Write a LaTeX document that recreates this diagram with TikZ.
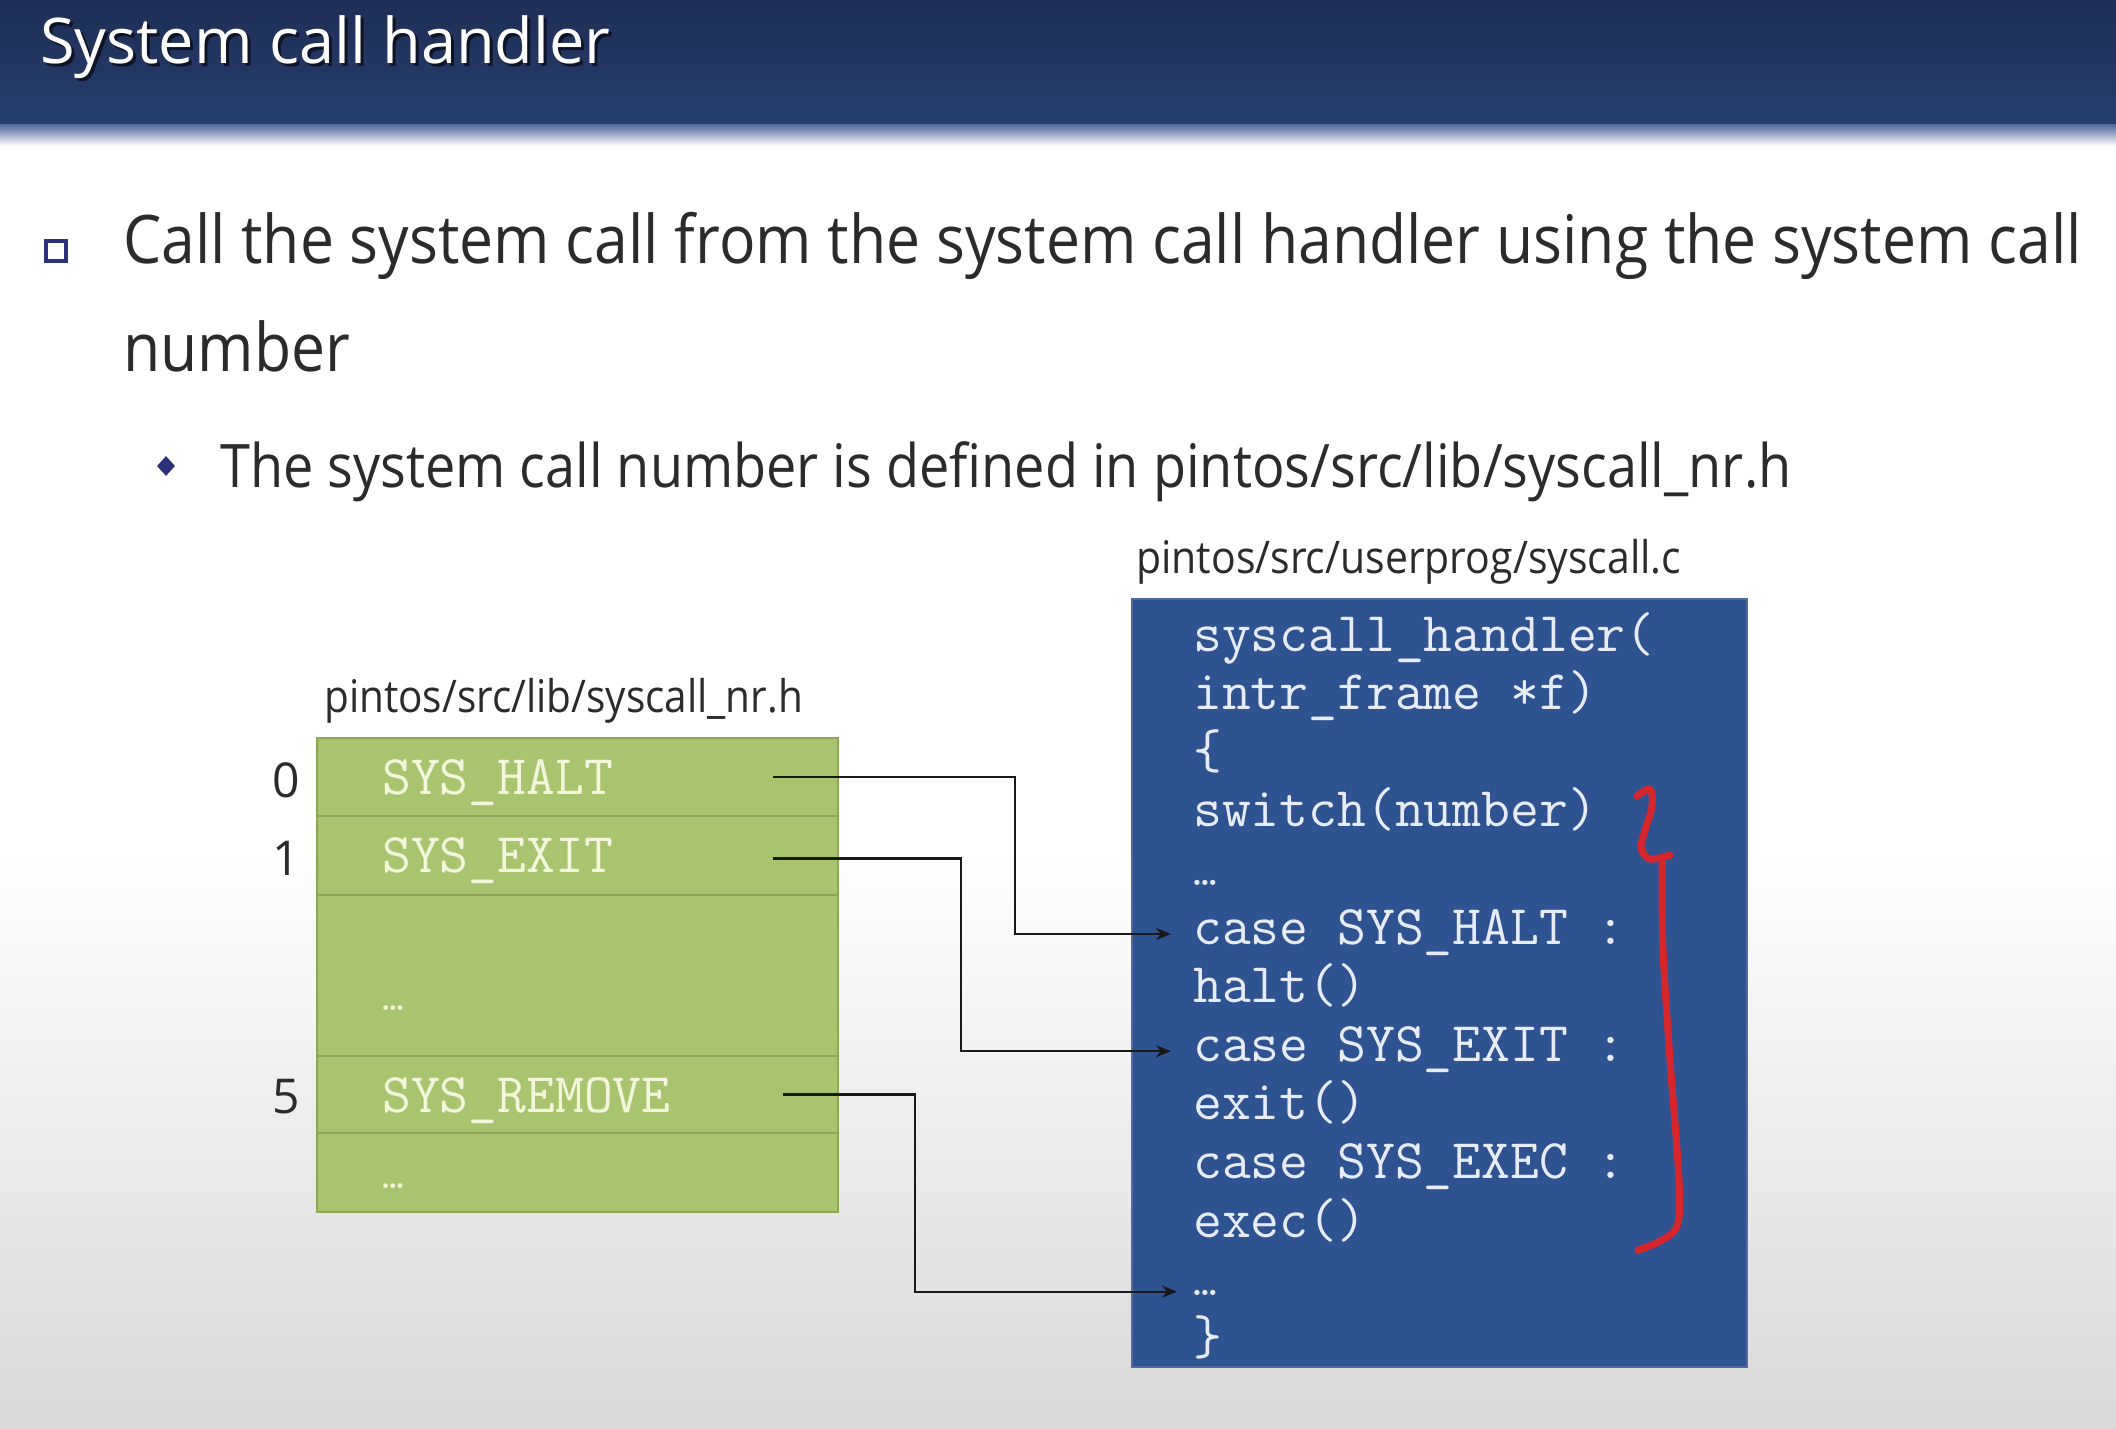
\documentclass[tikz,border=0pt]{standalone}
\usepackage{fontspec}
\usepackage{graphicx}
\setmainfont{Open Sans}
\usetikzlibrary{arrows.meta,shapes.geometric}
\definecolor{navyA}{HTML}{1F2E55}
\definecolor{navyB}{HTML}{263E6D}
\definecolor{bandC}{HTML}{4D6597}
\definecolor{greenF}{HTML}{A9C46F}
\definecolor{greenD}{HTML}{8CA75A}
\definecolor{greenT}{HTML}{F2F6DC}
\definecolor{blueF}{HTML}{2F5291}
\definecolor{blueT}{HTML}{E6ECF6}
\definecolor{inkT}{HTML}{2B2B2B}
\definecolor{redP}{HTML}{D7262B}
\definecolor{bulletC}{HTML}{2C327A}
\newcommand{\codefont}{\fontsize{56}{56}\ttfamily}
\begin{document}
\begin{tikzpicture}[x=1pt,y=-1pt,
  txt/.style={anchor=base west, inner sep=0pt, text=inkT},
  code/.style={anchor=base west, inner sep=0pt, text=blueT, text height=34pt, text depth=10pt, font=\codefont},
  gtext/.style={anchor=base west, inner sep=0pt, text=greenT, font=\codefont},
  row/.style={draw=greenD, line width=2pt, fill=greenF, minimum width=521pt, anchor=north west, inner sep=0pt, outer sep=0pt},
  conn/.style={draw=black!90, line width=2.2pt, -{Stealth[length=15pt,width=12pt]}},
  num/.style={anchor=base east, inner sep=0pt, text=inkT, font=\fontsize{48}{48}\selectfont},
  fpath/.style={anchor=base west, inner sep=0pt, text=inkT, font=\fontsize{45}{45}\selectfont},
]
\useasboundingbox (0,0) rectangle (2116,1428);
% background
\fill[white] (0,0) rectangle (2116,1428);
\shade[top color=white, bottom color=black!15] (0,850) rectangle (2116,1428);
\shade[top color=navyA, bottom color=navyB] (0,0) rectangle (2116,124);
\shade[top color=bandC, bottom color=white] (0,124) rectangle (2116,146);
% title
\node[anchor=base west, inner sep=0pt, text=black, opacity=0.6, font=\fontsize{63}{63}\selectfont] (tshadow) at (43,66) {System call handler};
\node[anchor=base west, inner sep=0pt, text=white, font=\fontsize{63}{63}\selectfont] (title) at (40,63) {System call handler};
% bullets
\node[draw=bulletC, line width=4pt, minimum size=20pt, inner sep=0pt] (sq) at (56,251) {};
\node[txt, font=\fontsize{67}{67}\selectfont] (b1) at (123,263) {\scalebox{0.905}[1]{Call the system call from the system call handler using the system call}};
\node[txt, font=\fontsize{67}{67}\selectfont] (b1b) at (123,371) {\scalebox{0.905}[1]{number}};
\node[diamond, fill=bulletC, minimum width=18pt, minimum height=20pt, inner sep=0pt] (dm) at (166,466) {};
\node[txt, font=\fontsize{60}{60}\selectfont] (b2) at (220,487) {\scalebox{0.9}[1]{The system call number is defined in pintos/src/lib/syscall\_nr.h}};
% file labels
\node[fpath] (lab1) at (324,712) {\scalebox{0.9}[1]{pintos/src/lib/syscall\_nr.h}};
\node[fpath] (lab2) at (1136,573) {\scalebox{0.91}[1]{pintos/src/userprog/syscall.c}};
% green table
\node[row, minimum height=78pt] (r1) at (317,738) {};
\node[row, minimum height=79pt] (r2) at (317,816) {};
\node[row, minimum height=161pt] (r3) at (317,895) {};
\node[row, minimum height=77pt] (r4) at (317,1056) {};
\node[row, minimum height=79pt] (r5) at (317,1133) {};
\node[gtext] (g1) at (382,794) {SYS\_HALT};
\node[gtext] (g2) at (382,872) {SYS\_EXIT};
\node[gtext, font=\fontsize{42}{42}\ttfamily] (g3) at (382,1010) {…};
\node[gtext] (g4) at (382,1112) {SYS\_REMOVE};
\node[gtext, font=\fontsize{42}{42}\ttfamily] (g5) at (382,1188) {…};
\node[num] (n0) at (300,797) {0};
\node[num] (n1) at (300,875) {1};
\node[num] (n5) at (300,1113) {5};
% blue code box
\node[draw=blueF!85!white, line width=1.5pt, fill=blueF, minimum width=615pt, minimum height=768pt, anchor=north west, inner sep=0pt] (cbox) at (1131,598) {};
\node[code] (l0) at (1193,651) {syscall\_handler(};
\node[code] (l1) at (1193,709.6) {intr\_frame *f)};
\node[code] (l2) at (1193,768.2) {\{};
\node[code] (l3) at (1193,826.8) {switch(number)};
\node[code, font=\fontsize{46}{46}\ttfamily] (l4) at (1193,885.4) {…};
\node[code] (l5) at (1193,944) {case SYS\_HALT :};
\node[code] (l6) at (1193,1002.6) {halt()};
\node[code] (l7) at (1193,1061.2) {case SYS\_EXIT :};
\node[code] (l8) at (1193,1119.8) {exit()};
\node[code] (l9) at (1193,1178.4) {case SYS\_EXEC :};
\node[code] (l10) at (1193,1237) {exec()};
\node[code, font=\fontsize{46}{46}\ttfamily] (l11) at (1193,1295.6) {…};
\node[code] (l12) at (1193,1354.2) {\}};
% connectors
\coordinate (k1) at (1015,0);
\coordinate (k2) at (961,0);
\coordinate (k3) at (915,0);
\coordinate (e1) at ([xshift=-22pt,yshift=-2pt]l5.west);
\coordinate (e2) at ([xshift=-22pt,yshift=-2pt]l7.west);
\coordinate (e3) at ([xshift=-16pt,yshift=-8pt]l11.west);
\draw[conn] ([xshift=-65pt]r1.east) -| (e1 -| k1) -- (e1);
\draw[conn] ([xshift=-65pt,yshift=-3pt]r2.east) -| (e2 -| k2) -- (e2);
\draw[conn] ([xshift=-55pt]r4.east) -| (e3 -| k3) -- (e3);
% red hand-drawn brace
\draw[redP, line width=7pt, line cap=round, line join=round]
  plot[smooth, tension=0.55] coordinates {(1637,796) (1650,789) (1652,806) (1645,830) (1641,848) (1650,859) (1670,855)};
\draw[redP, line width=7pt, line cap=round, line join=round]
  plot[smooth, tension=0.55] coordinates {(1662,862) (1663,950) (1670,1060) (1679,1180) (1677,1226) (1658,1242) (1638,1250)};
\end{tikzpicture}
\end{document}
